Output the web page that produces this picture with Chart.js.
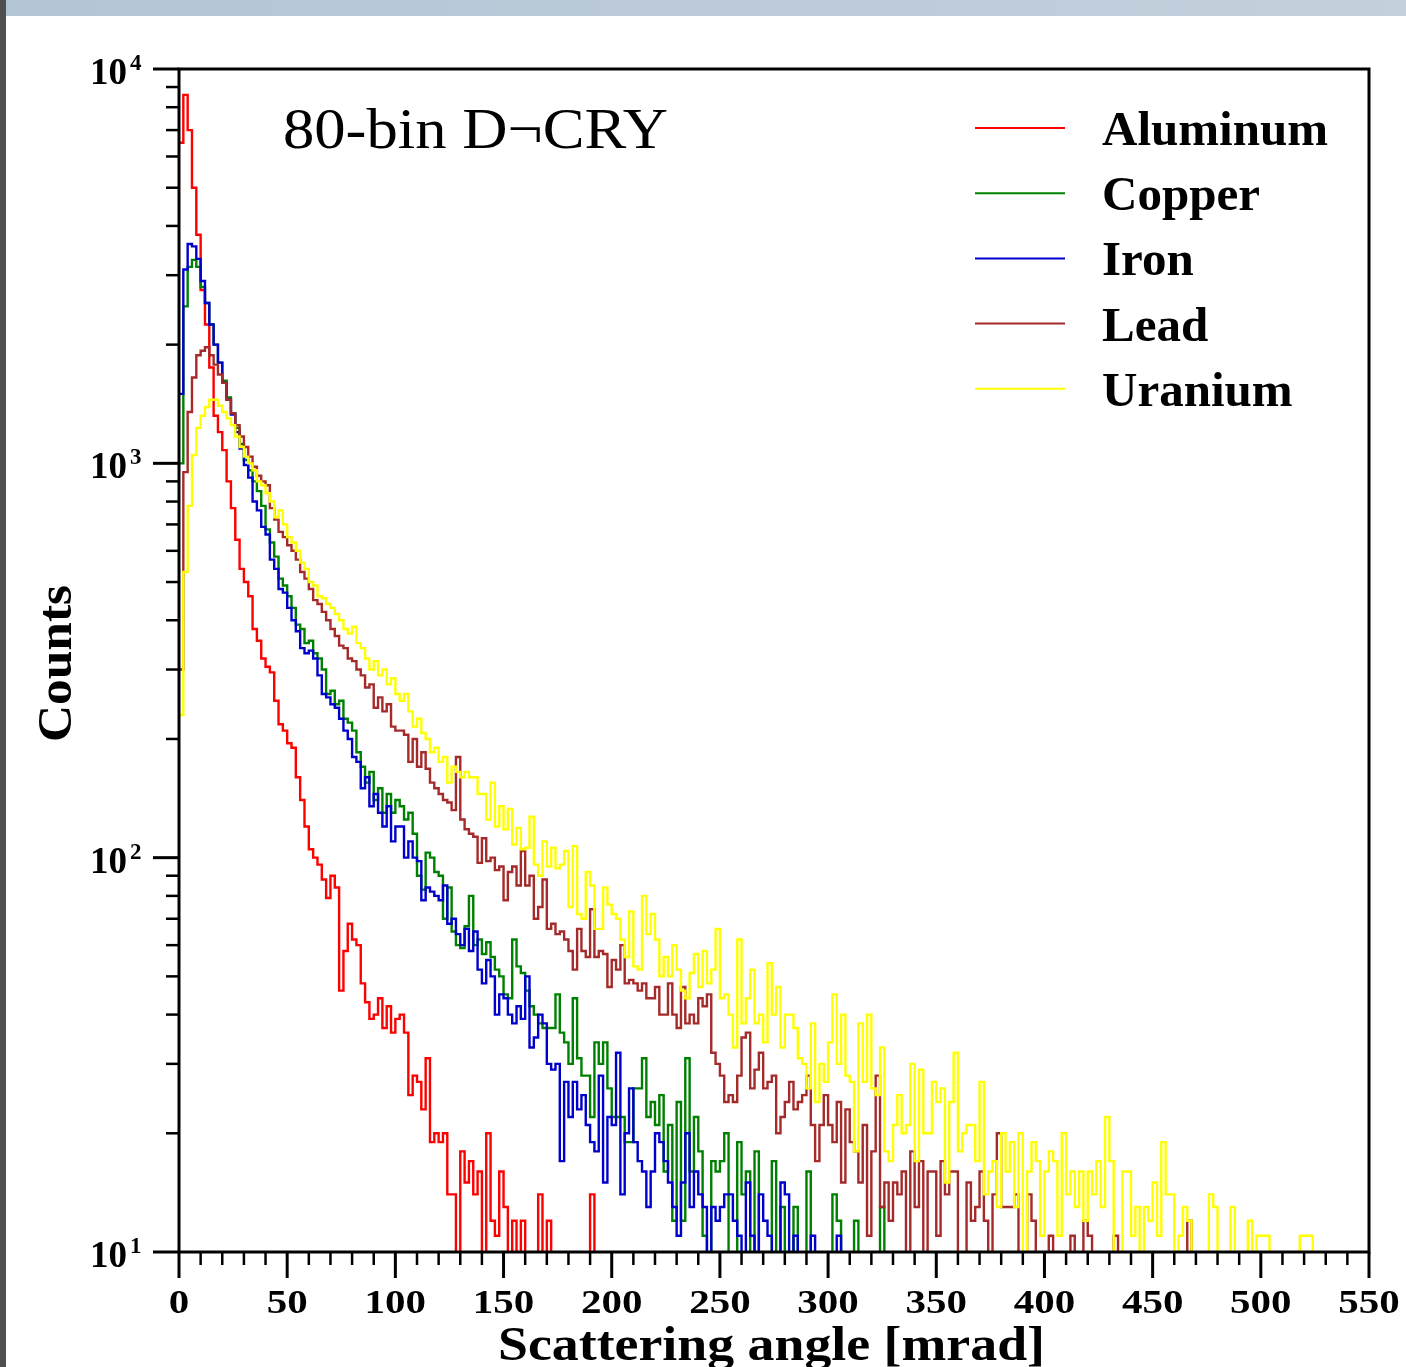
<!DOCTYPE html>
<html>
<head>
<meta charset="utf-8">
<title>Scattering angle</title>
<script src="https://cdn.jsdelivr.net/npm/chart.js@4.4.1/dist/chart.umd.min.js"></script>
<style>
    html, body { margin: 0; padding: 0; background: #fff; overflow: hidden; }
    #wrap { position: relative; width: 1406px; height: 1367px; }
    #topbar { position: absolute; left: 0; top: 0; width: 1406px; height: 16px; background: linear-gradient(to right, #b4c5d6, #c4d0dc); }
    #leftbar { position: absolute; left: 0; top: 0; width: 6px; height: 1367px; background: #4f4f4f; }
    canvas { position: absolute; left: 0; top: 0; }
</style>
</head>
<body>
<div id="wrap">
    <canvas id="grafico" width="1406" height="1367"></canvas>
    <div id="topbar"></div>
    <div id="leftbar"></div>
</div>
<script>
const BIN_WIDTH = 2; // mrad per bin
const ANGLE_MAX = 550;
const COUNT_MIN = 10;
const COUNT_MAX = 10000;
const X_TICK_LABELS = [0, 50, 100, 150, 200, 250, 300, 350, 400, 450, 500, 550];
const Y_DECADES = [10, 100, 1000, 10000];
const Y_EXPONENTS = ['1', '2', '3', '4'];
const TITLE = '80-bin D\u00acCRY';
const SERIES_NAMES = ['Aluminum', 'Copper', 'Iron', 'Lead', 'Uranium'];

// counts per 2 mrad bin, 0 = nothing above the axis
const ALUMINUM = [
    6500, 8600, 7000, 5000, 3800, 2750, 2250, 1750, 1320, 1200,
    1080, 900, 770, 640, 540, 500, 460, 380, 355, 320,
    305, 295, 250, 218, 210, 195, 190, 160, 140, 120,
    105, 100, 96, 88, 79, 90, 84, 46, 58, 68,
    62, 60, 48, 43, 39, 40, 44, 37, 42, 36,
    39, 40, 36, 25, 28, 27, 23, 31, 19, 20,
    19, 20, 14, 14, 0, 18, 15, 17, 14, 16,
    0, 20, 12, 11, 16, 13, 0, 12, 0, 12,
    0, 0, 0, 14, 0, 12, 0, 0, 0, 0,
    0, 0, 0, 0, 0, 14
];
const COPPER = [
    1000, 2500, 3150, 3280, 3150, 2800, 2550, 2250, 2000, 1800,
    1620, 1470, 1340, 1230, 1120, 1020, 960, 900, 850, 780,
    680, 630, 580, 510, 490, 460, 430, 390, 380, 350,
    355, 330, 320, 300, 260, 265, 245, 250, 225, 220,
    210, 185, 170, 155, 165, 140, 150, 130, 145, 130,
    140, 135, 125, 130, 115, 90, 83, 103, 100, 92,
    90, 70, 84, 65, 60, 59, 67, 80, 60, 62,
    57, 61, 56, 52, 50, 45, 44, 62, 53, 51,
    46, 42, 40, 38, 37, 37, 37, 45, 36, 34,
    30, 44, 31, 28, 28, 22, 34, 30, 34, 26,
    22, 22, 22, 19, 19, 26, 26, 31, 22, 24,
    21, 25, 16, 21, 12, 24, 12, 31, 16, 22,
    18, 11, 0, 17, 16, 17, 20, 0, 0, 19,
    14, 16, 0, 18, 0, 0, 0, 17, 0, 13,
    0, 0, 13, 0, 0, 16, 0, 0, 0, 0,
    0, 14, 12, 0, 0, 0, 12, 0, 0, 0,
    0, 0, 13
];
const IRON = [
    1500, 3100, 3600, 3550, 3300, 2900, 2550, 2250, 2000, 1800,
    1600, 1450, 1330, 1200, 1090, 990, 920, 800, 760, 690,
    660, 570, 540, 480, 470, 430, 400, 375, 340, 330,
    335, 320, 290, 260, 255, 245, 240, 225, 210, 200,
    180, 175, 150, 160, 135, 145, 130, 120, 135, 110,
    120, 120, 100, 110, 100, 98, 78, 84, 82, 80,
    78, 85, 68, 70, 64, 60, 66, 58, 65, 52,
    48, 55, 50, 40, 45, 44, 40, 38, 42, 39,
    50, 33, 35, 40, 38, 30, 29, 30, 17, 27,
    22, 27, 23, 25, 21, 19, 18, 28, 15, 22,
    21, 32, 14, 20, 26, 19, 17, 16, 13, 16,
    20, 19, 17, 15, 13, 11, 15, 20, 13, 16,
    14, 13, 0, 13, 12, 13, 14, 14, 12, 11,
    0, 15, 11, 0, 14, 12, 11, 0, 0, 15,
    14, 0, 11, 0, 0, 0, 11, 0, 0, 0,
    0, 0, 11
];
const LEAD = [
    300, 950, 1350, 1650, 1880, 1930, 1970, 1880, 1780, 1680,
    1600, 1450, 1340, 1250, 1170, 1100, 1040, 980, 930, 900,
    880, 770, 720, 670, 650, 620, 600, 570, 530, 510,
    480, 450, 440, 420, 400, 380, 365, 345, 340, 320,
    315, 300, 290, 270, 275, 240, 255, 235, 245, 215,
    210, 210, 205, 175, 200, 170, 185, 168, 155, 150,
    145, 140, 138, 132, 180, 125, 118, 115, 113, 97,
    112, 98, 100, 93, 95, 78, 92, 95, 85, 104,
    85, 90, 70, 75, 88, 66, 68, 64, 65, 62,
    58, 52, 66, 58, 56, 74, 56, 58, 57, 47,
    55, 52, 60, 48, 49, 48, 46, 48, 44, 44,
    47, 40, 40, 48, 40, 37, 47, 38, 40, 38,
    44, 42, 45, 32, 30, 28, 24, 25, 24, 28,
    35, 36, 26, 29, 32, 26, 27, 28, 20, 22,
    24, 27, 23, 24, 25, 28, 21, 17, 21, 25,
    21, 19, 24, 15, 23, 19, 18, 15, 21, 11,
    18, 28, 13, 15, 12, 15, 14, 16, 0, 18,
    13, 17, 0, 16, 16, 11, 17, 14, 16, 16,
    0, 0, 15, 12, 13, 16, 12, 0, 14, 20,
    13, 13, 13, 14, 0, 0, 14, 12, 0, 0,
    0, 11, 0, 0, 0, 0, 11, 0, 0, 12,
    11, 0, 0, 0, 0, 0, 11, 0, 0, 0,
    0, 0, 0, 0, 0, 0, 0, 0, 0, 0,
    0, 0, 0, 12
];
const URANIUM = [
    230, 530, 780, 1050, 1230, 1320, 1390, 1450, 1450, 1400,
    1350, 1300, 1250, 1170, 1100, 1040, 1000, 960, 900, 880,
    840, 800, 730, 760, 700, 650, 630, 600, 560, 540,
    500, 490, 460, 455, 440, 430, 415, 400, 380, 370,
    385, 350, 340, 320, 300, 315, 290, 300, 275, 285,
    260, 250, 260, 235, 215, 225, 207, 200, 185, 190,
    175, 180, 155, 170, 165, 160, 165, 160, 160, 145,
    145, 125, 155, 120, 135, 118, 133, 108, 119, 105,
    106, 127, 96, 90, 110, 95, 106, 94, 96, 104,
    75, 107, 72, 70, 92, 85, 66, 66, 84, 76,
    72, 70, 62, 56, 73, 53, 52, 80, 64, 72,
    62, 50, 56, 50, 60, 52, 46, 44, 51, 57,
    47, 58, 48, 52, 66, 44, 45, 40, 33, 62,
    38, 44, 52, 38, 40, 34, 54, 40, 47, 33,
    40, 40, 37, 31, 30, 26, 38, 24, 30, 27,
    34, 45, 30, 40, 28, 27, 18, 38, 27, 40,
    26, 25, 33, 18, 17, 21, 25, 20, 21, 30,
    17, 29, 20, 20, 27, 24, 26, 15, 24, 32,
    18, 20, 21, 21, 17, 27, 14, 16, 17, 13,
    20, 16, 19, 13, 20, 0, 16, 19, 17, 11,
    16, 18, 17, 11, 20, 14, 16, 13, 16, 12,
    16, 14, 17, 13, 22, 17, 0, 0, 16, 16,
    11, 13, 0, 13, 12, 15, 11, 19, 14, 14,
    0, 11, 13, 12, 0, 0, 0, 0, 14, 13,
    0, 0, 0, 13, 0, 0, 0, 12, 0, 11,
    11, 11, 0, 0, 0, 0, 0, 0, 0, 11,
    11, 11
];

const SERIES_VALUES = [ALUMINUM, COPPER, IRON, LEAD, URANIUM];
const SERIES_COLORS = ['#ff0000', '#008000', '#0000cc', '#a52a2a', '#ffff00'];
const SERIF = "'Liberation Serif', 'Times New Roman', serif";
const BELOW_AXIS = COUNT_MIN / 4; // empty bins fall under the frame and get clipped

// bin left edges, plus a closing edge that drops back to the axis
function toSteps(values) {
    const pts = values.map((v, i) => ({ x: i * BIN_WIDTH, y: v > 0 ? v : BELOW_AXIS }));
    pts.push({ x: values.length * BIN_WIDTH, y: BELOW_AXIS });
    return pts;
}

// text squeezed or stretched to a given width
function fitText(ctx, text, x, y, width, font, align) {
    ctx.save();
    ctx.font = font;
    const w = ctx.measureText(text).width;
    ctx.translate(x, y);
    ctx.scale(width / w, 1);
    ctx.textAlign = align;
    ctx.textBaseline = 'alphabetic';
    ctx.fillText(text, 0, 0);
    ctx.restore();
}

function scaledText(ctx, text, x, y, sx, font, align) {
    ctx.save();
    ctx.font = font;
    ctx.translate(x, y);
    ctx.scale(sx, 1);
    ctx.textAlign = align;
    ctx.textBaseline = 'alphabetic';
    ctx.fillText(text, 0, 0);
    ctx.restore();
}

const eixosRoot = {
    id: 'eixosRoot',
    afterDatasetsDraw(chart) {
        const { ctx, chartArea: a, scales: { x, y } } = chart;
        ctx.save();
        ctx.strokeStyle = '#000';
        ctx.fillStyle = '#000';
        ctx.lineCap = 'butt';

        // frame
        ctx.lineWidth = 3;
        ctx.strokeRect(a.left, a.top, a.right - a.left, a.bottom - a.top);

        // x ticks, major every 50, minor every 10
        for (let v = 0; v <= ANGLE_MAX; v += 10) {
            const px = x.getPixelForValue(v);
            const major = X_TICK_LABELS.includes(v);
            ctx.lineWidth = major ? 3 : 2.5;
            ctx.beginPath();
            ctx.moveTo(px, a.bottom);
            ctx.lineTo(px, a.bottom + (major ? 26 : 13));
            ctx.stroke();
        }

        // y ticks, decades and 2..9 in between
        Y_DECADES.forEach((d, k) => {
            const py = y.getPixelForValue(d);
            ctx.lineWidth = 3;
            ctx.beginPath();
            ctx.moveTo(a.left - 26, py);
            ctx.lineTo(a.left, py);
            ctx.stroke();
            if (k < Y_DECADES.length - 1) {
                for (let m = 2; m <= 9; m++) {
                    const pm = y.getPixelForValue(d * m);
                    ctx.lineWidth = 2.5;
                    ctx.beginPath();
                    ctx.moveTo(a.left - 13, pm);
                    ctx.lineTo(a.left, pm);
                    ctx.stroke();
                }
            }
        });

        // x tick labels
        const tickFont = 'bold 34px ' + SERIF;
        ctx.font = tickFont;
        const sxTick = 41 / ctx.measureText('50').width;
        X_TICK_LABELS.forEach(v => {
            scaledText(ctx, String(v), x.getPixelForValue(v), a.bottom + 61, sxTick, tickFont, 'center');
        });

        // y tick labels 10^n
        const baseFont = 'bold 37px ' + SERIF;
        const supFont = 'bold 23px ' + SERIF;
        Y_DECADES.forEach((d, k) => {
            const py = y.getPixelForValue(d);
            scaledText(ctx, '10', a.left - 52, py + 15, 1, baseFont, 'right');
            scaledText(ctx, Y_EXPONENTS[k], a.left - 49, py + 1, 1, supFont, 'left');
        });

        // axis titles
        fitText(ctx, 'Scattering angle [mrad]', 771.5, 1360, 547, 'bold 48px ' + SERIF, 'center');
        ctx.save();
        ctx.translate(71, 663.5);
        ctx.rotate(-Math.PI / 2);
        fitText(ctx, 'Counts', 0, 0, 157, 'bold 48px ' + SERIF, 'center');
        ctx.restore();

        // title
        fitText(ctx, TITLE, 283, 148, 385, '58px ' + SERIF, 'left');

        // legend
        const legFont = 'bold 49px ' + SERIF;
        ctx.font = legFont;
        const sxLeg = 226 / ctx.measureText('Aluminum').width;
        SERIES_NAMES.forEach((name, k) => {
            const ly = 128 + k * 65.2;
            ctx.strokeStyle = SERIES_COLORS[k];
            ctx.lineWidth = 2;
            ctx.beginPath();
            ctx.moveTo(975, ly);
            ctx.lineTo(1065, ly);
            ctx.stroke();
            scaledText(ctx, name, 1102, ly + 17, sxLeg, legFont, 'left');
        });

        ctx.restore();
    }
};

function montarGrafico() {
    const ctx = document.getElementById('grafico').getContext('2d');
    const datasets = SERIES_NAMES.map((name, k) => ({
        label: name,
        data: toSteps(SERIES_VALUES[k]),
        borderColor: SERIES_COLORS[k],
        backgroundColor: SERIES_COLORS[k],
        borderWidth: 2.4,
        stepped: 'before',
        pointRadius: 0,
        fill: false,
        order: SERIES_NAMES.length - k
    }));

    new Chart(ctx, {
        type: 'line',
        data: { datasets },
        options: {
            responsive: false,
            animation: false,
            events: [],
            layout: { padding: { left: 179, right: 37, top: 69, bottom: 115 } },
            plugins: {
                legend: { display: false },
                tooltip: { enabled: false }
            },
            scales: {
                x: { type: 'linear', min: 0, max: ANGLE_MAX, display: false },
                y: { type: 'logarithmic', min: COUNT_MIN, max: COUNT_MAX, display: false }
            }
        },
        plugins: [eixosRoot]
    });
}

montarGrafico();
</script>
</body>
</html>
